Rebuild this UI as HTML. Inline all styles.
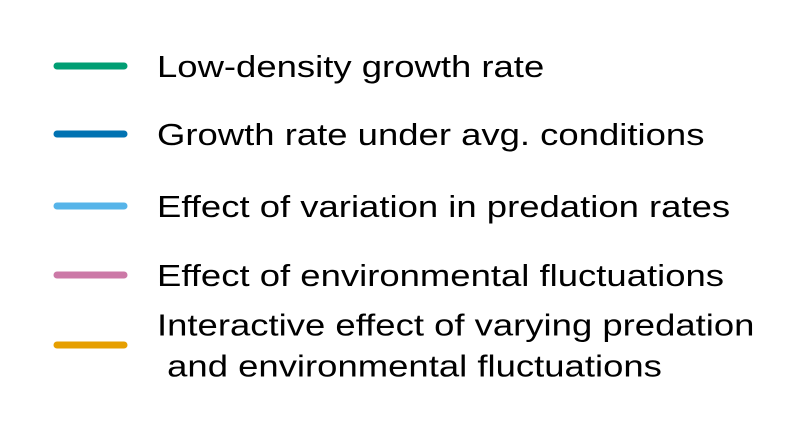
<!DOCTYPE html>
<html><head><meta charset="utf-8"><style>
html,body{margin:0;padding:0;background:#fff;}
body{width:790px;height:439px;position:relative;overflow:hidden;font-family:"Liberation Sans",Arial,sans-serif;}
</style></head><body>
<svg width="790" height="439" id="lg"></svg>
<script>
const labels=[["Low-density growth rate"],["Growth rate under avg. conditions"],["Effect of variation in predation rates"],["Effect of environmental fluctuations"],["Interactive effect of varying predation"," and environmental fluctuations"]];
const colors=["#009E73","#0072B2","#56B4E9","#CC79A7","#E69F00"];
const ys=[66,134,206,275,345];
const svg=document.getElementById('lg');
const ns="http://www.w3.org/2000/svg";
labels.forEach((lab,i)=>{
  const g=document.createElementNS(ns,'g');
  
  
  const l=document.createElementNS(ns,'line');
  
  
  l.setAttribute('x1',57);l.setAttribute('x2',124);
  l.setAttribute('y1',ys[i]);l.setAttribute('y2',ys[i]);
  l.setAttribute('stroke',colors[i]);l.setAttribute('stroke-width',7);l.setAttribute('stroke-linecap','round');
  g.appendChild(l);
  const n=lab.length;
  lab.forEach((s,j)=>{
    const t=document.createElementNS(ns,'text');
    
    
    t.setAttribute('x',0);
    t.setAttribute('y',ys[i]+11+(j-(n-1)/2)*41);
    t.setAttribute('transform','translate(157,0) scale(1.177,1)');
    t.setAttribute('font-size','31');
    t.setAttribute('fill','#000');
    t.style.whiteSpace='pre';
    t.textContent=s;
    g.appendChild(t);
  });
  svg.appendChild(g);
});
</script>
</body></html>
